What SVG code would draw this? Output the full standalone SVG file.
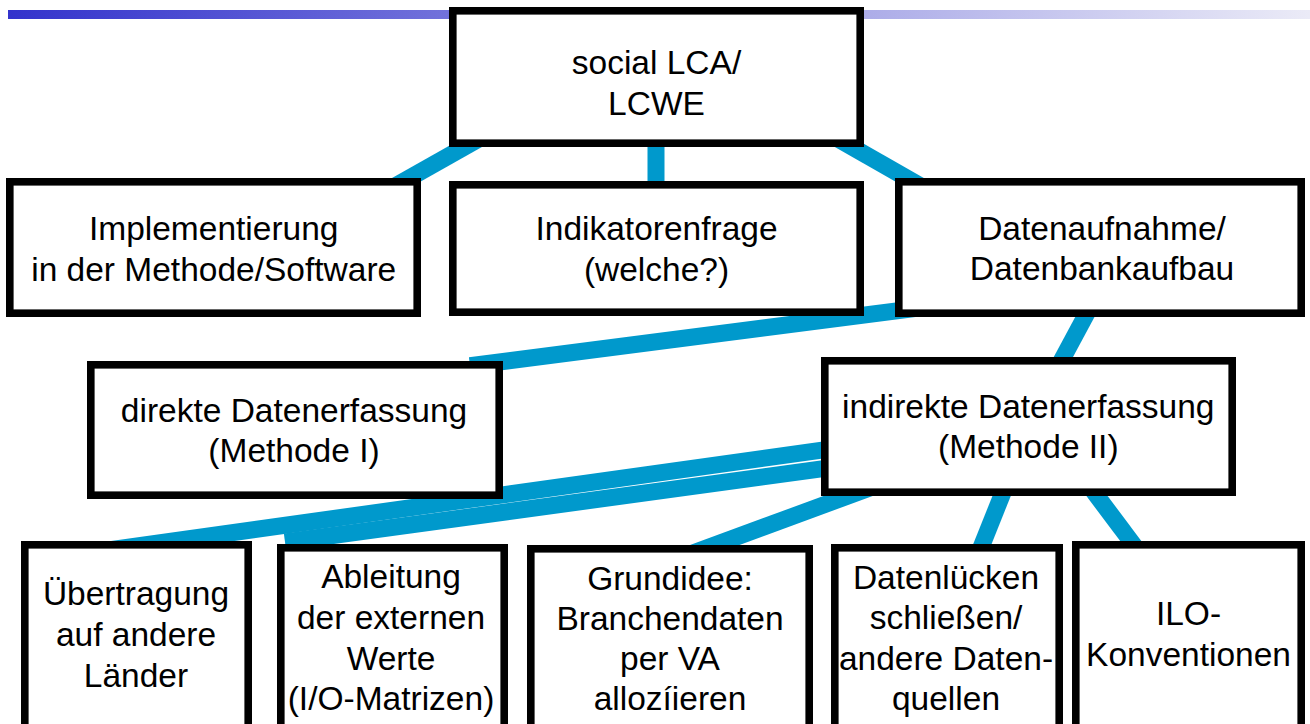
<svg xmlns="http://www.w3.org/2000/svg" width="1310" height="724" viewBox="0 0 1310 724">
  <style>
    .box { fill: #ffffff; stroke: #000000; stroke-width: 7.6; }
    .lbl { font-family: "Liberation Sans", Arial, sans-serif; font-size: 33.5px; fill: #000000; text-anchor: middle; }
    .con { stroke: #0099CC; stroke-width: 17; fill: none; stroke-linecap: butt; }
  </style>
  <defs>
    <linearGradient id="bar" x1="0" y1="0" x2="1" y2="0">
      <stop offset="0" stop-color="#3333CC"/>
      <stop offset="1" stop-color="#EBEBF7"/>
    </linearGradient>
  </defs>
  <rect width="1310" height="724" fill="#ffffff"/>
  <rect x="8" y="10" width="1302" height="9" fill="url(#bar)"/>

  <g id="connectors">
    <line class="con" x1="494.6" y1="130" x2="370.5" y2="200"/>
    <line class="con" x1="656" y1="130" x2="656" y2="200"/>
    <line class="con" x1="822.4" y1="130" x2="945" y2="200"/>
    <line class="con" x1="930" y1="306.6" x2="470" y2="365.7"/>
    <line class="con" x1="1094" y1="300" x2="1051" y2="380"/>
    <line class="con" x1="840" y1="447.6" x2="80" y2="554"/>
    <line class="con" x1="840" y1="466.4" x2="285" y2="542"/>
    <line class="con" x1="891.5" y1="480" x2="674" y2="560"/>
    <line class="con" x1="1008" y1="480" x2="976" y2="560"/>
    <line class="con" x1="1085" y1="480" x2="1145" y2="560"/>
  </g>

  <g id="node-social-lca">
    <rect class="box" x="452.8" y="10.8" width="407.4" height="132.4"/>
    <text class="lbl" x="656.5" y="74">social LCA/</text>
    <text class="lbl" x="656.5" y="114.5">LCWE</text>
  </g>
  <g id="node-implementierung">
    <rect class="box" x="9.8" y="181.8" width="407.4" height="131.4"/>
    <text class="lbl" x="213.7" y="240">Implementierung</text>
    <text class="lbl" x="213.7" y="280.7">in der Methode/Software</text>
  </g>
  <g id="node-indikatorenfrage">
    <rect class="box" x="452.8" y="184.8" width="407.4" height="127.4"/>
    <text class="lbl" x="656.5" y="240">Indikatorenfrage</text>
    <text class="lbl" x="656.5" y="280.5">(welche?)</text>
  </g>
  <g id="node-datenaufnahme">
    <rect class="box" x="898.8" y="181.8" width="402.4" height="131.4"/>
    <text class="lbl" x="1102" y="240">Datenaufnahme/</text>
    <text class="lbl" x="1102" y="280">Datenbankaufbau</text>
  </g>
  <g id="node-direkte">
    <rect class="box" x="90.8" y="364.8" width="408.4" height="130.4"/>
    <text class="lbl" x="294" y="421.7">direkte Datenerfassung</text>
    <text class="lbl" x="294" y="461.7">(Methode I)</text>
  </g>
  <g id="node-indirekte">
    <rect class="box" x="824.8" y="360.8" width="407.4" height="131.4"/>
    <text class="lbl" x="1028.3" y="418.3">indirekte Datenerfassung</text>
    <text class="lbl" x="1028.3" y="458.3">(Methode II)</text>
  </g>
  <g id="node-uebertragung">
    <rect class="box" x="24.8" y="544.8" width="223.4" height="200"/>
    <text class="lbl" x="136" y="605">Übertragung</text>
    <text class="lbl" x="136" y="646">auf andere</text>
    <text class="lbl" x="136" y="686.5">Länder</text>
  </g>
  <g id="node-ableitung">
    <rect class="box" x="280.8" y="547.8" width="223.4" height="200"/>
    <text class="lbl" x="391" y="588.3">Ableitung</text>
    <text class="lbl" x="391" y="629">der externen</text>
    <text class="lbl" x="391" y="669.5">Werte</text>
    <text class="lbl" x="391" y="710">(I/O-Matrizen)</text>
  </g>
  <g id="node-grundidee">
    <rect class="box" x="530.8" y="548.8" width="278.4" height="200"/>
    <text class="lbl" x="670" y="590">Grundidee:</text>
    <text class="lbl" x="670" y="630">Branchendaten</text>
    <text class="lbl" x="670" y="670">per VA</text>
    <text class="lbl" x="670" y="710">allozíieren</text>
  </g>
  <g id="node-datenluecken">
    <rect class="box" x="834.8" y="547.8" width="224.4" height="200"/>
    <text class="lbl" x="946" y="588.5">Datenlücken</text>
    <text class="lbl" x="946" y="629">schließen/</text>
    <text class="lbl" x="946" y="669.5">andere Daten-</text>
    <text class="lbl" x="946" y="710">quellen</text>
  </g>
  <g id="node-ilo">
    <rect class="box" x="1075.8" y="544.8" width="225.4" height="200"/>
    <text class="lbl" x="1188.5" y="625">ILO-</text>
    <text class="lbl" x="1188.5" y="666">Konventionen</text>
  </g>
</svg>
